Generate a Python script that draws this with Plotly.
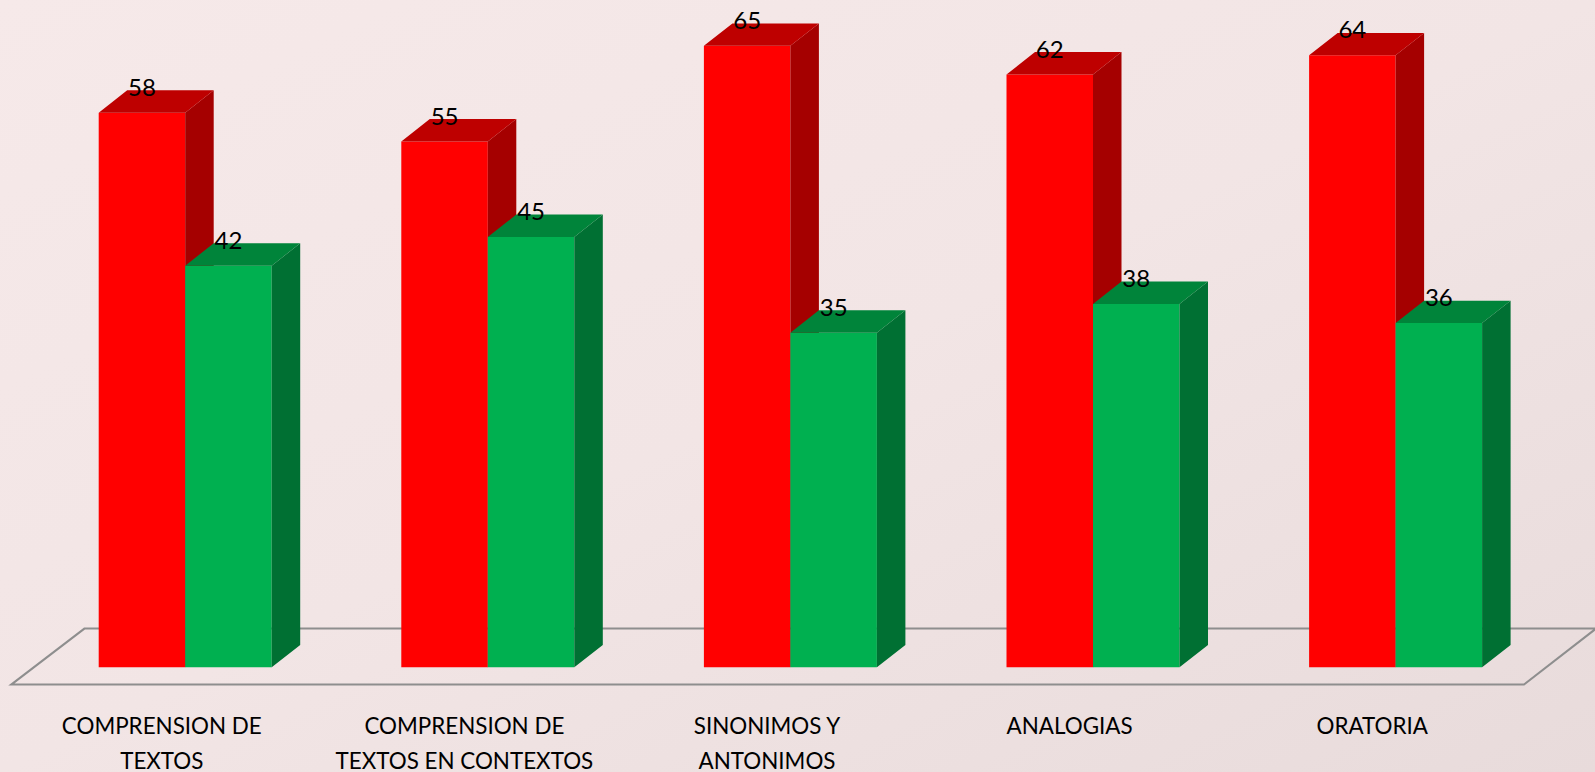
import base64
import plotly.graph_objects as go

categories = ["COMPRENSION DE<br>TEXTOS", "COMPRENSION DE<br>TEXTOS EN CONTEXTOS",
              "SINONIMOS Y<br>ANTONIMOS", "ANALOGIAS", "ORATORIA"]
red_values = [58, 55, 65, 62, 64]
green_values = [42, 45, 35, 38, 36]

RED, RED_SIDE, RED_TOP = "#FF0000", "#A50000", "#BE0000"
GREEN, GREEN_SIDE, GREEN_TOP = "#00B050", "#007033", "#00843A"
FLOOR = "#8E8E8E"
FONT = "Lato"

W, H = 1595, 772
PLOT_BOTTOM = 700
GROUP_PX, UNIT_PX, BASE_PX, FIRST_CENTER_PX = 302.6, 9.4 * 1.0172, 667.3, 185.2
BAR_W = 86.5 / GROUP_PX
DX, DY = 28.5 / GROUP_PX, 22.4 / UNIT_PX
x_range = [-FIRST_CENTER_PX / GROUP_PX, (W - FIRST_CENTER_PX) / GROUP_PX]
y_range = [(BASE_PX - PLOT_BOTTOM) / UNIT_PX, BASE_PX / UNIT_PX]


def px(p):
    return (p - FIRST_CENTER_PX) / GROUP_PX


def py(p):
    return (BASE_PX - p) / UNIT_PX


def faces(values, left_off):
    sx, sy, tx, ty = [], [], [], []
    for i, v in enumerate(values):
        l, r = i + left_off, i + left_off + BAR_W
        sx += [r, r + DX, r + DX, r, r, None]
        sy += [0, DY, v + DY, v, 0, None]
        tx += [l, l + DX, r + DX, r, l, None]
        ty += [v, v + DY, v + DY, v, v, None]
    return sx, sy, tx, ty


def poly(x, y, color, xa, ya):
    return go.Scatter(x=x, y=y, mode="lines", fill="toself", fillcolor=color,
                      line=dict(width=0, color=color), hoverinfo="skip",
                      showlegend=False, xaxis=xa, yaxis=ya)


idx = list(range(len(categories)))
fig = go.Figure()

# red series on the base axes
fig.add_trace(go.Bar(x=idx, y=red_values, width=BAR_W, offset=-BAR_W, marker=dict(color=RED, line=dict(width=0)),
                     name="Rojo", showlegend=False, xaxis="x", yaxis="y"))
sx, sy, tx, ty = faces(red_values, -BAR_W)
fig.add_trace(poly(sx, sy, RED_SIDE, "x", "y"))
fig.add_trace(poly(tx, ty, RED_TOP, "x", "y"))

# green series on overlaying axes, so that it covers the red side faces
fig.add_trace(go.Bar(x=idx, y=green_values, width=BAR_W, offset=0, marker=dict(color=GREEN, line=dict(width=0)),
                     name="Verde", showlegend=False, xaxis="x2", yaxis="y2"))
sx, sy, tx, ty = faces(green_values, 0)
fig.add_trace(poly(sx, sy, GREEN_SIDE, "x2", "y2"))
fig.add_trace(poly(tx, ty, GREEN_TOP, "x2", "y2"))

# data labels
lab_x = [i - BAR_W / 2 for i in idx] + [i + BAR_W / 2 for i in idx]
lab_v = red_values + green_values
fig.add_trace(go.Scatter(x=lab_x, y=[v + DY + 0.05 for v in lab_v], text=[str(v) for v in lab_v],
                         mode="text", textposition="middle center",
                         textfont=dict(family=FONT, size=24, color="#000000"),
                         cliponaxis=False, hoverinfo="skip", showlegend=False, xaxis="x2", yaxis="y2"))

svg = (f'<svg xmlns="http://www.w3.org/2000/svg" width="{W}" height="{H}" preserveAspectRatio="none">'
       '<defs><linearGradient id="g" x1="0" y1="0" x2="1" y2="1">'
       '<stop offset="0" stop-color="#F6E9E9"/><stop offset="0.5" stop-color="#F2E5E5"/>'
       '<stop offset="1" stop-color="#E8DBDB"/></linearGradient></defs>'
       f'<rect width="{W}" height="{H}" fill="url(#g)"/></svg>')
bg = "data:image/svg+xml;base64," + base64.b64encode(svg.encode()).decode()

floor_path = (f"M {px(11.2)} {py(684.6)} L {px(1524)} {py(684.6)} L {px(1596)} {py(628.6)} "
              f"L {px(84.4)} {py(628.6)} Z")

LABEL_SIZE = 22.4
span = f'<span style="font-size:{LABEL_SIZE}px">'

fig.update_layout(
    width=W, height=H, autosize=False,
    margin=dict(l=0, r=0, t=0, b=H - PLOT_BOTTOM, pad=0, autoexpand=False),
    paper_bgcolor="#F2E5E5", plot_bgcolor="rgba(0,0,0,0)",
    showlegend=False,
    images=[dict(source=bg, xref="paper", yref="paper", x=0, y=1, sizex=1, sizey=H / PLOT_BOTTOM,
                 xanchor="left", yanchor="top", sizing="stretch", layer="below")],
    shapes=[dict(type="path", path=floor_path, xref="x", yref="y", layer="below",
                 line=dict(color=FLOOR, width=2), fillcolor="rgba(0,0,0,0)")],
    xaxis=dict(range=x_range, showgrid=False, zeroline=False, showline=False, ticks="outside", ticklen=1,
               automargin=False, tickcolor="rgba(0,0,0,0)", tickmode="array",
               tickvals=[i - 23.4 / GROUP_PX for i in idx],
               ticktext=[span + c.replace("<br>", "</span><br>" + span) + "</span>" for c in categories],
               tickfont=dict(family=FONT, size=26.6, color="#000000"), tickangle=0),
    yaxis=dict(range=y_range, visible=False, automargin=False),
    xaxis2=dict(range=x_range, overlaying="x", visible=False, automargin=False),
    yaxis2=dict(range=y_range, overlaying="y", visible=False, automargin=False),
)

fig.write_html("out.html", config={"displayModeBar": False},
               post_script="document.body.style.margin='0';document.body.style.overflow='hidden';")
